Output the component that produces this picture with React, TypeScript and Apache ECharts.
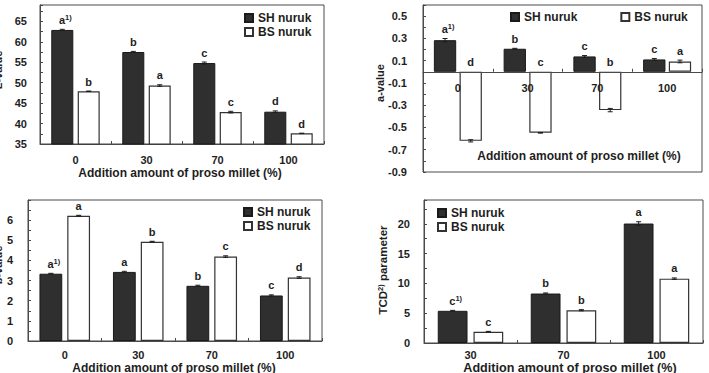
import React, { useEffect, useRef } from "react";
import * as echarts from "echarts";

const FONT = '"Liberation Sans", Arial, Helvetica, sans-serif';
const INK = "#1e1e1e";
const FRAME = "#4a4a4a";
const SH_NAME = "SH nuruk";
const BS_NAME = "BS nuruk";
const X_TITLE = "Addition amount of proso millet (%)";

// L-value
const lCategories = ["0", "30", "70", "100"];
const lSH = [62.9, 57.5, 54.8, 42.9];
const lBS = [47.9, 49.3, 42.8, 37.6];
const lSHErr = [0.15, 0.15, 0.25, 0.2];
const lBSErr = [0.05, 0.2, 0.2, 0.05];
const lSHLetters = ["a", "b", "c", "d"];
const lBSLetters = ["b", "a", "c", "d"];
const lTicks = [35, 40, 45, 50, 55, 60, 65];

// a-value
const aCategories = ["0", "30", "70", "100"];
const aSH = [0.284, 0.207, 0.138, 0.111];
const aBS = [-0.62, -0.548, -0.344, 0.093];
const aSHErr = [0.015, 0.004, 0.008, 0.008];
const aBSErr = [0.01, 0.003, 0.015, 0.012];
const aSHLetters = ["a", "b", "c", "c"];
const aBSLetters = ["d", "c", "b", "a"];
const aTicks = [0.5, 0.3, 0.1, -0.1, -0.3, -0.5, -0.7, -0.9];

// b-value
const bCategories = ["0", "30", "70", "100"];
const bSH = [3.34, 3.43, 2.74, 2.26];
const bBS = [6.22, 4.93, 4.19, 3.15];
const bSHErr = [0.02, 0.03, 0.03, 0.03];
const bBSErr = [0.02, 0.02, 0.04, 0.04];
const bSHLetters = ["a", "a", "b", "c"];
const bBSLetters = ["a", "b", "c", "d"];
const bTicks = [0, 1, 2, 3, 4, 5, 6];

// TCD parameter
const tCategories = ["30", "70", "100"];
const tSH = [5.4, 8.3, 20.05];
const tBS = [1.9, 5.5, 10.8];
const tSHErr = [0.08, 0.1, 0.3];
const tBSErr = [0.05, 0.1, 0.12];
const tSHLetters = ["c", "b", "a"];
const tBSLetters = ["c", "b", "a"];
const tTicks = [0, 5, 10, 15, 20];

type Panel = {
  grid: { left: number; top: number; width: number; height: number };
  categories: string[];
  sh: number[];
  bs: number[];
  shErr: number[];
  bsErr: number[];
  shLetters: string[];
  bsLetters: string[];
  ticks: number[];
  min: number;
  max: number;
  interval: number;
  decimals: number;
  bar: number;
  gap: number;
  yMargin: number;
  xMargin: number;
  zeroAxis: boolean;
  legend: { left: number; top: number; orient: "vertical" | "horizontal"; itemGap: number };
};

const panels: Panel[] = [
  {
    grid: { left: 40, top: 5, width: 284, height: 139 },
    categories: lCategories, sh: lSH, bs: lBS, shErr: lSHErr, bsErr: lBSErr,
    shLetters: lSHLetters, bsLetters: lBSLetters, ticks: lTicks,
    min: 35, max: 69, interval: 2.5, decimals: 0, bar: 0.31, gap: 0.2,
    yMargin: 13, xMargin: 10, zeroAxis: false,
    legend: { left: 244, top: 12, orient: "vertical", itemGap: 2 },
  },
  {
    grid: { left: 423, top: 5, width: 279, height: 167 },
    categories: aCategories, sh: aSH, bs: aBS, shErr: aSHErr, bsErr: aBSErr,
    shLetters: aSHLetters, bsLetters: aBSLetters, ticks: aTicks,
    min: -0.9, max: 0.6, interval: 0.1, decimals: 1, bar: 0.32, gap: 0.15,
    yMargin: 16, xMargin: 11, zeroAxis: true,
    legend: { left: 510, top: 11, orient: "horizontal", itemGap: 43 },
  },
  {
    grid: { left: 28, top: 200, width: 294, height: 141 },
    categories: bCategories, sh: bSH, bs: bBS, shErr: bSHErr, bsErr: bBSErr,
    shLetters: bSHLetters, bsLetters: bBSLetters, ticks: bTicks,
    min: 0, max: 7, interval: 0.5, decimals: 0, bar: 0.31, gap: 0.22,
    yMargin: 15, xMargin: 8, zeroAxis: false,
    legend: { left: 243, top: 206, orient: "vertical", itemGap: 2 },
  },
  {
    grid: { left: 424, top: 200, width: 279, height: 143 },
    categories: tCategories, sh: tSH, bs: tBS, shErr: tSHErr, bsErr: tBSErr,
    shLetters: tSHLetters, bsLetters: tBSLetters, ticks: tTicks,
    min: 0, max: 24, interval: 2.5, decimals: 0, bar: 0.32, gap: 0.2,
    yMargin: 14, xMargin: 6, zeroAxis: false,
    legend: { left: 437, top: 207, orient: "vertical", itemGap: 2 },
  },
];

// Error bars and significance letters, placed over the matching bar of each group.
function annotations(
  pi: number,
  p: Panel,
  values: number[],
  errs: number[],
  letters: string[],
  side: number,
  footnote: boolean
) {
  return {
    type: "custom",
    xAxisIndex: pi,
    yAxisIndex: pi,
    silent: true,
    z: 6,
    data: values.map((v, i) => [i, v, errs[i]]),
    renderItem: (params: any, api: any) => {
      const i = params.dataIndex;
      const v = values[i];
      const e = errs[i];
      const band = api.size([1, 0])[0];
      const w = band * p.bar;
      const x = api.coord([i, v])[0] + (side * w * (1 + p.gap)) / 2;
      const yHi = api.coord([i, v + e])[1];
      const yLo = api.coord([i, v - e])[1];
      const yText = api.coord([i, Math.max(v + e, 0)])[1] - 3;
      const cap = 2.5;
      const line = { stroke: INK, lineWidth: 1 };
      const label = footnote && i === 0 ? `${letters[i]}{s|1)}` : letters[i];
      return {
        type: "group",
        children: [
          { type: "line", shape: { x1: x, y1: yHi, x2: x, y2: yLo }, style: line },
          { type: "line", shape: { x1: x - cap, y1: yHi, x2: x + cap, y2: yHi }, style: line },
          { type: "line", shape: { x1: x - cap, y1: yLo, x2: x + cap, y2: yLo }, style: line },
          {
            type: "text",
            x: footnote && i === 0 ? x + 3 : x,
            y: yText,
            style: {
              text: label,
              fill: INK,
              fontFamily: FONT,
              fontWeight: "bold",
              fontSize: 11,
              lineHeight: 13,
              align: "center",
              verticalAlign: "bottom",
              rich: {
                s: { fontSize: 7.5, fontWeight: "bold", fontFamily: FONT, fill: INK, verticalAlign: "top", lineHeight: 13 },
              },
            },
          },
        ],
      };
    },
  };
}

function title(x: number, y: number, text: string, vertical: boolean, size = 12) {
  return {
    type: "text",
    x,
    y,
    rotation: vertical ? Math.PI / 2 : 0,
    silent: true,
    style: {
      text,
      fill: INK,
      fontFamily: FONT,
      fontWeight: "bold",
      fontSize: size,
      align: "center",
      verticalAlign: "middle",
      rich: {
        s: { fontSize: 7.5, fontWeight: "bold", fontFamily: FONT, fill: INK, verticalAlign: "top", lineHeight: 14 },
      },
    },
  };
}

function buildOption() {
  const grid = panels.map((p) => ({
    ...p.grid,
    show: true,
    borderColor: FRAME,
    borderWidth: 1,
    backgroundColor: "transparent",
    containLabel: false,
  }));

  const axisText = { color: INK, fontFamily: FONT, fontWeight: "bold" as const, fontSize: 11 };

  const xAxis = panels.map((p, pi) => {
    // Where the value axis crosses zero, the category axis sits on that line.
    const zeroShift = p.zeroAxis ? -(p.grid.height * (0 - p.min)) / (p.max - p.min) : 0;
    return {
      type: "category",
      gridIndex: pi,
      data: p.categories,
      z: p.zeroAxis ? 10 : 0,
      offset: zeroShift,
      axisLine: { show: true, onZero: false, lineStyle: { color: FRAME, width: 1 } },
      axisTick: { show: true, inside: true, length: 3, lineStyle: { color: FRAME } },
      axisLabel: { ...axisText, margin: p.xMargin },
      splitLine: { show: false },
    };
  });

  const yAxis = panels.map((p, pi) => ({
    type: "value",
    gridIndex: pi,
    min: p.min,
    max: p.max,
    interval: p.interval,
    axisLine: { show: true, lineStyle: { color: FRAME, width: 1 } },
    axisTick: { show: true, inside: true, length: 3, lineStyle: { color: FRAME } },
    splitLine: { show: false },
    axisLabel: {
      ...axisText,
      margin: p.yMargin,
      formatter: (v: number) =>
        p.ticks.some((t) => Math.abs(t - v) < 1e-6) ? v.toFixed(p.decimals) : "",
    },
  }));

  const series: any[] = [];
  panels.forEach((p, pi) => {
    series.push({
      type: "bar",
      name: SH_NAME,
      xAxisIndex: pi,
      yAxisIndex: pi,
      data: p.sh,
      barWidth: `${p.bar * 100}%`,
      barGap: `${p.gap * 100}%`,
      itemStyle: { color: "#2f2f2f", borderColor: "#1a1a1a", borderWidth: 1 },
    });
    series.push({
      type: "bar",
      name: BS_NAME,
      xAxisIndex: pi,
      yAxisIndex: pi,
      data: p.bs,
      barWidth: `${p.bar * 100}%`,
      barGap: `${p.gap * 100}%`,
      itemStyle: { color: "#ffffff", borderColor: "#333333", borderWidth: 1.2 },
    });
    series.push(annotations(pi, p, p.sh, p.shErr, p.shLetters, -1, true));
    series.push(annotations(pi, p, p.bs, p.bsErr, p.bsLetters, 1, false));
  });

  const legend = panels.map((p) => ({
    data: [SH_NAME, BS_NAME],
    left: p.legend.left,
    top: p.legend.top,
    orient: p.legend.orient,
    itemGap: p.legend.itemGap,
    itemWidth: 8,
    itemHeight: 8,
    icon: "rect",
    selectedMode: false,
    padding: 0,
    textStyle: { color: INK, fontFamily: FONT, fontWeight: "bold", fontSize: 12 },
  }));

  const graphic = [
    title(-2, 70, "L-value", true, 11),
    title(380, 83, "a-value", true, 11),
    title(-2, 265, "b-value", true, 11),
    title(383, 270, "TCD{s|2)} parameter", true, 11.5),
    title(180, 173, X_TITLE, false),
    title(579, 155.5, X_TITLE, false),
    title(174, 367.5, X_TITLE, false),
    title(570, 367.5, X_TITLE, false, 12.6),
  ];

  return {
    animation: false,
    backgroundColor: "#ffffff",
    grid,
    xAxis,
    yAxis,
    legend,
    series,
    graphic,
  };
}

export default function App() {
  const ref = useRef<HTMLDivElement>(null);
  useEffect(() => {
    if (!ref.current) return;
    const chart = echarts.init(ref.current, undefined, { renderer: "svg" });
    chart.setOption(buildOption() as any);
    return () => chart.dispose();
  }, []);
  return (
    <div
      ref={ref}
      style={{ position: "absolute", left: 0, top: 0, width: 709, height: 373, background: "#fff" }}
    />
  );
}
